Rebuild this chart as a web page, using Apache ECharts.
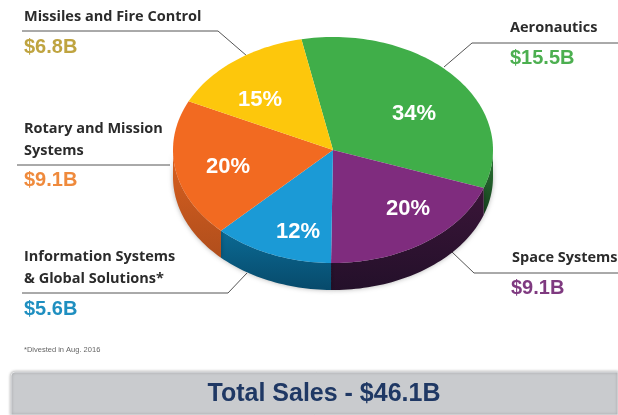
<!DOCTYPE html>
<html>
<head>
<meta charset="utf-8">
<style>html,body{margin:0;padding:0;background:#fff}#chart{width:618px;height:415px}</style>
<script src="https://cdn.jsdelivr.net/npm/echarts@6/dist/echarts.min.js"></script>
</head>
<body>
<div id="chart"></div>
<script>
// Sales by business segment: a tilted pie with a rim, callouts and a total bar.
const segments = ['Aeronautics', 'Space Systems', 'Information Systems & Global Solutions', 'Rotary and Mission Systems', 'Missiles and Fire Control'];
const sales = [15.5, 9.1, 5.6, 9.1, 6.8];
const shares = ['34%', '20%', '12%', '20%', '15%'];
const topColors = ['#40ae49', '#7f2c7e', '#1b9ad6', '#f26a21', '#fdc70c'];
const rimColors = [['#2c7a35', '#17401f'], ['#3a1538', '#24102a'], ['#0b6a94', '#074a6b'], ['#d9601f', '#b04e1c'], ['#c89b08', '#a07c06']];
const shareLabelAt = [[414, 114], [408, 209], [298, 232], [228, 167], [260, 100]];

const cx = 333, cy = 150, rx = 160, ry = 113, depth = 27;
const startAngle = -11.4;
const total = sales.reduce((a, b) => a + b, 0);

function rimPoint(deg, drop) {
  const t = deg * Math.PI / 180;
  return [cx + rx * Math.sin(t), cy - ry * Math.cos(t) + (drop || 0)];
}
function arc(a0, a1, drop) {
  const pts = [];
  const n = Math.max(2, Math.ceil(Math.abs(a1 - a0) / 1.5));
  for (let i = 0; i <= n; i++) pts.push(rimPoint(a0 + (a1 - a0) * i / n, drop));
  return pts;
}

function renderWedge(params, api) {
  const i = params.dataIndex;
  let before = 0;
  for (let k = 0; k < i; k++) before += sales[k];
  const a0 = startAngle + before / total * 360;
  const a1 = a0 + api.value(0) / total * 360;
  const children = [];
  // The rim only shows along the near half of the ellipse.
  const w0 = Math.max(a0, 90), w1 = Math.min(a1, 270);
  if (w1 > w0) {
    children.push({
      type: 'polygon', z2: 1,
      shape: { points: arc(w0, w1, 0).concat(arc(w1, w0, depth)) },
      style: {
        fill: new echarts.graphic.LinearGradient(0, 0, 0, 1, [
          { offset: 0, color: rimColors[i][0] }, { offset: 1, color: rimColors[i][1] }
        ]),
        shadowBlur: 5, shadowColor: 'rgba(0,0,0,0.3)'
      }
    });
  }
  children.push({
    type: 'polygon', z2: 2,
    shape: { points: [[cx, cy]].concat(arc(a0, a1, 0)) },
    style: { fill: topColors[i] }
  });
  children.push({
    type: 'text', z2: 3,
    style: {
      x: shareLabelAt[i][0], y: shareLabelAt[i][1],
      text: shares[i], fill: '#fff', align: 'center', verticalAlign: 'middle',
      font: 'bold 22px "Liberation Sans"'
    }
  });
  return { type: 'group', children };
}

// Leader lines from each wedge out to its caption.
const leaders = [
  [[444, 67], [472, 43], [618, 43]],
  [[452, 252], [474, 273], [618, 273]],
  [[247, 273], [228, 293], [22, 293]],
  [[170, 165], [17, 165]],
  [[247, 56], [218, 31], [22, 31]]
];
const captionNames = [
  { x: 510, y: 28, text: 'Aeronautics' },
  { x: 512, y: 258, text: 'Space Systems' },
  { x: 24, y: 257, text: 'Information Systems' },
  { x: 24, y: 279, text: '& Global Solutions*' },
  { x: 24, y: 129, text: 'Rotary and Mission' },
  { x: 24, y: 151, text: 'Systems' },
  { x: 24, y: 17, text: 'Missiles and Fire Control' }
];
const captionValues = [
  { x: 510, y: 58, text: '$15.5B', fill: '#4caf50' },
  { x: 511, y: 288, text: '$9.1B', fill: '#7f3a80' },
  { x: 24, y: 309, text: '$5.6B', fill: '#1f8fc0' },
  { x: 24, y: 180, text: '$9.1B', fill: '#ef8a3c' },
  { x: 24, y: 47, text: '$6.8B', fill: '#bfa440' }
];

const decor = [
  { type: 'rect', z: 1, shape: { x: 11, y: 372, width: 607, height: 43, r: [4, 0, 0, 0] },
    style: { fill: '#c9cbce', stroke: '#e4e5e7', lineWidth: 1, shadowBlur: 3, shadowColor: 'rgba(0,0,0,0.35)' } },
  { type: 'text', z: 2, style: { x: 324, y: 394, text: 'Total Sales - $46.1B', fill: '#1f3864',
      align: 'center', verticalAlign: 'middle', font: 'bold 25px "Liberation Sans"' } },
  { type: 'text', z: 2, style: { x: 24, y: 350, text: '*Divested in Aug. 2016', fill: '#666',
      verticalAlign: 'middle', font: '7.5px "Liberation Sans"' } }
];
leaders.forEach(points => decor.push({ type: 'polyline', z: 2, shape: { points },
  style: { fill: null, stroke: '#555', lineWidth: 1 } }));
captionNames.forEach(c => decor.push({ type: 'text', z: 3, style: { x: c.x, y: c.y, text: c.text,
  fill: '#2b2b2b', verticalAlign: 'middle', font: 'bold 14.5px "Open Sans"' } }));
captionValues.forEach(c => decor.push({ type: 'text', z: 3, style: { x: c.x, y: c.y, text: c.text,
  fill: c.fill, verticalAlign: 'middle', font: 'bold 20px "Liberation Sans"' } }));

const chart = echarts.init(document.getElementById('chart'), null, { renderer: 'canvas' });
chart.setOption({
  animation: false,
  backgroundColor: '#fff',
  graphic: { elements: decor },
  series: [{
    type: 'custom',
    coordinateSystem: 'none',
    renderItem: renderWedge,
    encode: { value: 0, itemName: 1 },
    data: sales.map((v, i) => ({ name: segments[i], value: [v] })),
    z: 5
  }]
});
</script>
</body>
</html>
